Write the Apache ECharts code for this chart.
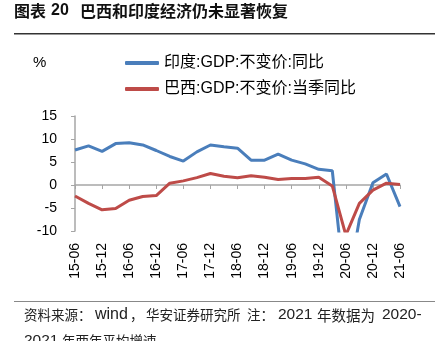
<!DOCTYPE html>
<html><head><meta charset="utf-8">
<script src="https://cdn.jsdelivr.net/npm/echarts@6/dist/echarts.min.js"></script>
<style>html,body{margin:0;padding:0;background:#fff}#c{width:435px;height:341px}</style>
</head><body><div id="c"></div>
<script>
var categories = ['15-06','15-09','15-12','16-03','16-06','16-09','16-12','17-03','17-06','17-09','17-12','18-03','18-06','18-09','18-12','19-03','19-06','19-09','19-12','20-03','20-06','20-09','20-12','21-03','21-06'];
var india = [7.6, 8.5, 7.3, 9.0, 9.2, 8.7, 7.5, 6.2, 5.2, 7.2, 8.7, 8.3, 8.0, 5.4, 5.4, 6.7, 5.4, 4.6, 3.4, 3.1, -24.4, -7.5, 0.5, 2.4, -4.7];
var brazil = [-2.4, -4.0, -5.4, -5.1, -3.3, -2.5, -2.3, 0.4, 0.9, 1.6, 2.5, 1.9, 1.6, 2.0, 1.7, 1.2, 1.4, 1.4, 1.7, -0.2, -10.9, -4.0, -1.1, 0.4, 0.1];
var yTicks = [-10, -5, 0, 5, 10, 15];
var seriesNames = ['印度:GDP:不变价:同比', '巴西:GDP:不变价:当季同比'];

var CJK = 'Noto Sans CJK SC';
var LAT = 'Liberation Sans';
function t(x, y, text, size, font, weight, color) {
  return {type: 'text', x: x, y: y, style: {text: text, fontSize: size, fontFamily: font, fontWeight: weight || 'normal', fill: color || '#222', verticalAlign: 'middle', align: 'left'}};
}

var chart = echarts.init(document.getElementById('c'), null, {renderer: 'canvas'});
var gridPos = {left: 75, right: 35, top: 116, height: 115};
var axisGray = '#a6a6a6';
chart.setOption({
  animation: false,
  color: ['#4a7ebb', '#be4b48'],
  legend: {
    orient: 'vertical', left: 120, top: 50, itemWidth: 34, itemHeight: 4, itemGap: 10,
    icon: 'roundRect',
    textStyle: {fontSize: 16, color: '#000', fontFamily: 'Liberation Sans, Noto Sans CJK SC'},
    data: seriesNames
  },
  grid: [Object.assign({}, gridPos), Object.assign({}, gridPos)],
  xAxis: [{
    type: 'category', data: categories, boundaryGap: false, gridIndex: 0,
    axisLine: {onZero: true, lineStyle: {color: axisGray, width: 1.5}},
    axisTick: {interval: 1, length: 4, lineStyle: {color: axisGray}},
    axisLabel: {show: false}
  }, {
    type: 'category', data: categories, boundaryGap: false, gridIndex: 1, position: 'bottom',
    axisLine: {show: false, onZero: false}, axisTick: {show: false},
    axisLabel: {interval: 1, rotate: 90, margin: 12, fontSize: 14, color: '#000', fontFamily: LAT}
  }],
  yAxis: [{
    type: 'value', gridIndex: 0, min: yTicks[0], max: yTicks[yTicks.length - 1], interval: yTicks[1] - yTicks[0],
    axisLine: {show: true, lineStyle: {color: axisGray, width: 1.5}},
    axisTick: {show: true, length: 4, lineStyle: {color: axisGray}},
    splitLine: {show: false},
    axisLabel: {margin: 18, fontSize: 14, color: '#000', fontFamily: LAT}
  }, {
    type: 'value', gridIndex: 1, min: yTicks[0], max: yTicks[yTicks.length - 1], show: false
  }],
  series: [{
    name: seriesNames[0], type: 'line', data: india, xAxisIndex: 0, yAxisIndex: 0,
    showSymbol: false, symbol: 'none', clip: true, lineStyle: {width: 3}
  }, {
    name: seriesNames[1], type: 'line', data: brazil, xAxisIndex: 0, yAxisIndex: 0,
    showSymbol: false, symbol: 'none', clip: true, lineStyle: {width: 3}
  }],
  graphic: [
    t(14, 11, '图表', 16, CJK, 'bold', '#111'),
    t(51, 11, '20', 16, LAT, 'bold', '#111'),
    t(80, 11, '巴西和印度经济仍未显著恢复', 16, CJK, 'bold', '#111'),
    {type: 'rect', shape: {x: 14, y: 33, width: 421, height: 1.5}, style: {fill: '#333'}},
    t(33, 63, '%', 15, LAT, 'normal', '#000'),
    {type: 'rect', shape: {x: 14, y: 301, width: 421, height: 1}, style: {fill: '#888'}},
    t(24, 315, '资料来源：', 13.5, CJK),
    t(95, 315, 'wind', 16, LAT),
    t(130, 315, '，', 13.5, CJK),
    t(146, 315, '华安证券研究所', 13.5, CJK),
    t(247, 315, '注：', 13.5, CJK),
    t(278, 315, '2021', 15.5, LAT),
    t(317, 315, '年数据为', 14.5, CJK),
    t(382, 315, '2020-', 15.5, LAT),
    t(24, 341, '2021', 15.5, LAT),
    t(62, 341, '年两年平均增速', 13.5, CJK)
  ]
});
</script></body></html>
